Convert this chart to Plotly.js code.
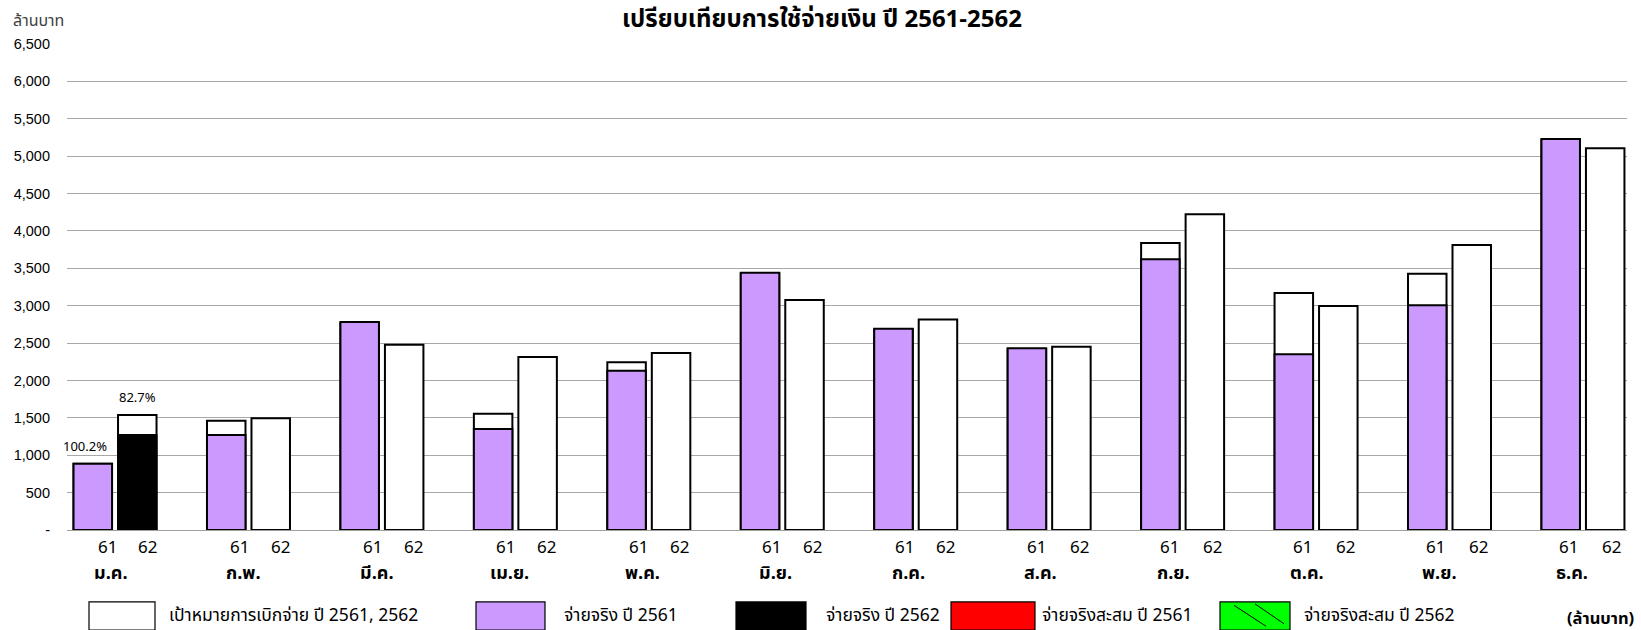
<!DOCTYPE html>
<html>
<head>
<meta charset="utf-8">
<script src="https://cdn.plot.ly/plotly-3.0.1.min.js"></script>
<style>html,body{margin:0;padding:0;background:#fff;}#chart{width:1641px;height:630px;}</style>
</head>
<body>
<div id="chart"></div>
<script>
// ---- data ----
var months = ['ม.ค.','ก.พ.','มี.ค.','เม.ย.','พ.ค.','มิ.ย.','ก.ค.','ส.ค.','ก.ย.','ต.ค.','พ.ย.','ธ.ค.'];
var target61 = [885, 1462, 2770, 1556, 2243, 3430, 2680, 2420, 3838, 3170, 3428, 5220];
var actual61 = [887, 1270, 2782, 1351, 2131, 3440, 2690, 2430, 3620, 2350, 3005, 5229];
var target62 = [1538, 1494, 2479, 2314, 2367, 3075, 2816, 2452, 4222, 2996, 3812, 5105];
var actual62 = [1272, null, null, null, null, null, null, null, null, null, null, null];
var pctLabels = [{month:'ม.ค.', year:'61', value:887, text:'100.2%'}, {month:'ม.ค.', year:'62', value:1538, text:'82.7%'}];
var yearLabels = ['61', '62'];
var yTickVals = [0,500,1000,1500,2000,2500,3000,3500,4000,4500,5000,5500,6000,6500];
var yTickText = ['-','500','1,000','1,500','2,000','2,500','3,000','3,500','4,000','4,500','5,000','5,500','6,000','6,500'];
var legendItems = [
  {label:'เป้าหมายการเบิกจ่าย ปี 2561, 2562', color:'#ffffff'},
  {label:'จ่ายจริง ปี 2561', color:'#cc99ff'},
  {label:'จ่ายจริง ปี 2562', color:'#000000'},
  {label:'จ่ายจริงสะสม ปี 2561', color:'#ff0000'},
  {label:'จ่ายจริงสะสม ปี 2562', color:'#00ff00'}
];

// ---- styling ----
var THAI = "Tahoma, 'Noto Sans Thai', 'Noto Sans Thai UI', Loma, Garuda, 'DejaVu Sans', sans-serif";
var W = 0.2885, OFF61 = -0.311, OFF62 = 0.0224;
var outline = {color:'#000', width:2};

var traces = [
  {type:'bar', x:months, y:target61, offset:OFF61, width:W, marker:{color:'#ffffff', line:outline}, hoverinfo:'y', name:'เป้าหมาย 61'},
  {type:'bar', x:months, y:target62, offset:OFF62, width:W, marker:{color:'#ffffff', line:outline}, hoverinfo:'y', name:'เป้าหมาย 62'},
  {type:'bar', x:months, y:actual61, offset:OFF61, width:W, marker:{color:'#cc99ff', line:outline}, hoverinfo:'y', name:'จ่ายจริง ปี 2561'},
  {type:'bar', x:months, y:actual62, offset:OFF62, width:W, marker:{color:'#000000', line:outline}, hoverinfo:'y', name:'จ่ายจริง ปี 2562'}
];

var plotL = 67, plotR = 1627, plotW = plotR - plotL;
function px2paper(px){ return (px - plotL) / plotW; }

var annotations = [];
// unit label
annotations.push({xref:'paper', yref:'paper', x:px2paper(11), y:1.047, xanchor:'left', yanchor:'middle', text:'ล้านบาท', showarrow:false, font:{family:THAI, size:16, color:'#404040'}});
// year labels and month labels
months.forEach(function(m, i){
  var adj = 4 - i * 0.6;
  annotations.push({xref:'x', yref:'paper', x:i, xshift:-12 + adj, y:-0.037, yanchor:'middle', text:yearLabels[0], showarrow:false, font:{family:THAI, size:17, color:'#000'}});
  annotations.push({xref:'x', yref:'paper', x:i, xshift:30 + adj * 0.5, y:-0.037, yanchor:'middle', text:yearLabels[1], showarrow:false, font:{family:THAI, size:17, color:'#000'}});
  annotations.push({xref:'x', yref:'paper', x:i, xshift:-4 - i * 0.6, y:-0.09, yanchor:'middle', text:'<b>'+m+'</b>', showarrow:false, font:{family:THAI, size:18, color:'#000'}});
});
// percentage labels
pctLabels.forEach(function(p){
  var i = months.indexOf(p.month);
  var sh = p.year === '61' ? -30 : 22;
  annotations.push({xref:'x', yref:'y', x:i, xshift:sh, y:p.value, yshift:5, yanchor:'bottom', text:p.text, showarrow:false, font:{family:THAI, size:13, color:'#000'}});
});

// legend (drawn)
var boxes = [[89,155],[476,545],[736,806],[951,1035],[1220,1290]];
var textX = [167, 562, 824, 1040, 1302];
var shapes = [];
var legY0 = -0.148, legY1 = -0.206;
legendItems.forEach(function(it, k){
  shapes.push({type:'rect', xref:'paper', yref:'paper', x0:px2paper(boxes[k][0]), x1:px2paper(boxes[k][1]), y0:legY0, y1:legY1, fillcolor:it.color, line:{color:'#000', width:1.2}});
  annotations.push({xref:'paper', yref:'paper', x:px2paper(textX[k]), y:-0.176, xanchor:'left', yanchor:'middle', text:it.label, showarrow:false, font:{family:THAI, size:17.5, color:'#000'}});
});
// hatch lines in green box
shapes.push({type:'line', xref:'paper', yref:'paper', x0:px2paper(1234), x1:px2paper(1266), y0:-0.155, y1:-0.198, line:{color:'#000', width:1}});
shapes.push({type:'line', xref:'paper', yref:'paper', x0:px2paper(1255), x1:px2paper(1284), y0:-0.152, y1:-0.193, line:{color:'#000', width:1}});
annotations.push({xref:'paper', yref:'paper', x:px2paper(1636), y:-0.182, xanchor:'right', yanchor:'middle', text:'<b>(ล้านบาท)</b>', showarrow:false, font:{family:THAI, size:16.5, color:'#000'}});

var layout = {
  width:1641, height:630,
  margin:{l:plotL, r:1641-plotR, t:44, b:100, pad:0},
  paper_bgcolor:'#fff', plot_bgcolor:'#fff',
  barmode:'overlay',
  showlegend:false,
  title:{text:'<b>เปรียบเทียบการใช้จ่ายเงิน ปี 2561-2562</b>', xref:'container', x:822/1641, xanchor:'center', yref:'container', y:1-19/630, yanchor:'middle', font:{family:THAI, size:24, color:'#000'}},
  xaxis:{type:'category', categoryorder:'array', categoryarray:months, range:[-0.36, 11.33], showticklabels:false, ticks:'', showgrid:false, zeroline:false, showline:true, linecolor:'#a0a0a0', linewidth:1, fixedrange:true},
  yaxis:{range:[0,6500], tickvals:yTickVals, ticktext:yTickText, showgrid:true, gridcolor:'#a8a8a8', gridwidth:1, zeroline:false, showline:false, ticks:'', ticklabelstandoff:16, tickfont:{family:"'Liberation Sans', Arial, sans-serif", size:14.5, color:'#000'}, fixedrange:true},
  annotations:annotations,
  shapes:shapes
};

Plotly.newPlot('chart', traces, layout, {displayModeBar:false, staticPlot:true});
</script>
</body>
</html>
